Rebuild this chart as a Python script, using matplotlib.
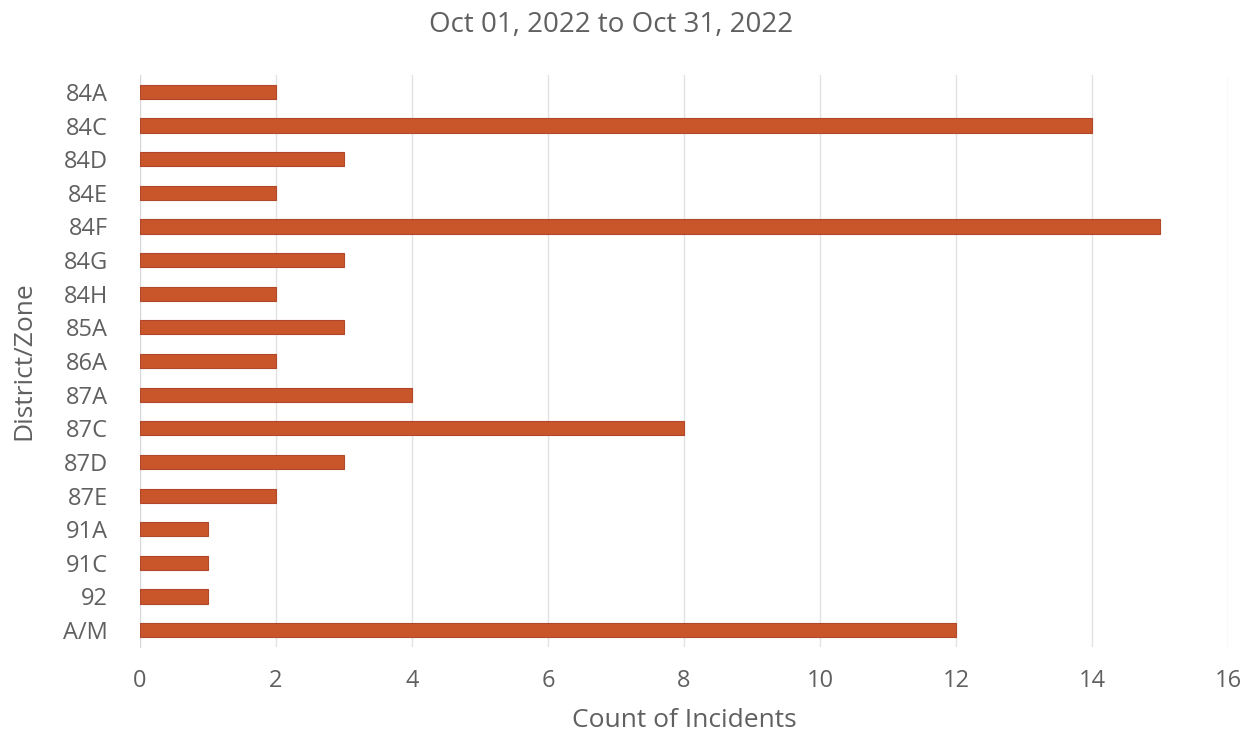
import matplotlib
matplotlib.use("Agg")
import matplotlib.pyplot as plt

# incidents per district/zone, top to bottom
zones = ["84A", "84C", "84D", "84E", "84F", "84G", "84H", "85A", "86A",
         "87A", "87C", "87D", "87E", "91A", "91C", "92", "A/M"]
counts = [2, 14, 3, 2, 15, 3, 2, 3, 2, 4, 8, 3, 2, 1, 1, 1, 12]
xticks = [0, 2, 4, 6, 8, 10, 12, 14, 16]

plt.rcParams["font.family"] = ["Open Sans", "DejaVu Sans"]
txt = "#606060"

fig = plt.figure(figsize=(12.46, 7.36), dpi=100)
ax = fig.add_axes([0.1124, 0.121, 0.8732, 0.777])

ypos = list(range(len(zones)))
ax.barh(ypos, counts, height=0.42, color="#C9552A", edgecolor="#B0472A",
        linewidth=0.8, zorder=3)

ax.set_ylim(len(zones) - 0.5, -0.5)
ax.set_xlim(0, 16)
ax.set_yticks(ypos)
ax.set_yticklabels(zones)
ax.set_xticks(xticks)
ax.set_xticklabels([str(t) for t in xticks])

ax.grid(axis="x", color="#e2e2e2", linewidth=1, zorder=0)
for s in ["top", "right", "bottom"]:
    ax.spines[s].set_visible(False)
ax.spines["left"].set_color("#d8d8d8")
ax.tick_params(axis="both", length=0, labelsize=17, colors=txt)
ax.tick_params(axis="x", pad=16)
ax.tick_params(axis="y", pad=23)

ax.set_xlabel("Count of Incidents", fontsize=19, color=txt, va="center")
ax.xaxis.set_label_coords(0.5, -0.128)
ax.set_ylabel("District/Zone", fontsize=19, color=txt, va="center")
ax.yaxis.set_label_coords(-0.1066, 0.5)
fig.text(0.4904, 0.966, "Oct 01, 2022 to Oct 31, 2022", ha="center",
         va="center", fontsize=20, color=txt)

fig.savefig("out.png", dpi=100)
